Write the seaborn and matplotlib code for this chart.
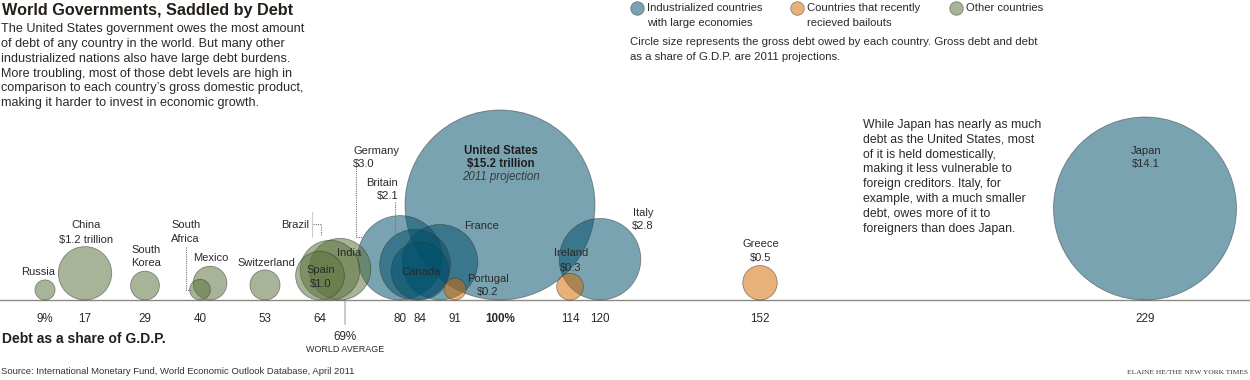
import numpy as np
import pandas as pd
import matplotlib
matplotlib.use("Agg")
import matplotlib.pyplot as plt
import seaborn as sns

# ---------------- data ----------------
countries = ["Russia", "China", "South Korea", "South Africa", "Mexico", "Switzerland",
             "Spain", "Brazil", "India", "Germany", "Britain", "Canada", "France",
             "Portugal", "United States", "Ireland", "Italy", "Greece", "Japan"]
debt_share_gdp = [9, 17, 29, 40, 42, 53, 64, 66, 68, 80, 83, 84, 88, 91, 100, 114, 120, 152, 229]
gross_debt_trillion = [0.17, 1.2, 0.35, 0.18, 0.48, 0.38, 1.0, 1.5, 1.6, 3.0, 2.1, 1.4, 2.4,
                       0.2, 15.2, 0.3, 2.8, 0.5, 14.1]
groups = ["other", "other", "other", "other", "other", "other", "other", "other", "other",
          "industrial", "industrial", "industrial", "industrial", "bailout", "industrial",
          "bailout", "industrial", "bailout", "industrial"]
tick_labels = ["9%", "17", "29", "40", "", "53", "64", "", "", "80", "", "84", "", "91",
               "100%", "114", "120", "152", "229"]
world_average = 69

# ---------------- style ----------------
W, H, DPI = 1250, 380, 100
PX_PER_UNIT = 5.0          # 1 percentage point = 5 px
BASE_PX = 300              # baseline y in pixels (from top)
MAX_R_PX = 95              # radius of the largest circle
palette = {"industrial": "#00506a", "bailout": "#d56b00", "other": "#586f39"}
ALPHA = 0.52
TXT = "#2a2a2a"

sns.set_style("white")
plt.rcParams["font.family"] = ["Liberation Sans", "DejaVu Sans"]

df = pd.DataFrame({"country": countries, "share": debt_share_gdp,
                   "debt": gross_debt_trillion, "group": groups})
max_debt = df["debt"].max()
# circle radius (px) ∝ sqrt(debt); circles rest on the baseline
df["r_px"] = MAX_R_PX * np.sqrt(df["debt"] / max_debt)
df["yc"] = df["r_px"] / PX_PER_UNIT
df = df.sort_values("debt", ascending=False)
max_size = (2 * MAX_R_PX * 72.0 / DPI) ** 2

fig = plt.figure(figsize=(W / DPI, H / DPI), dpi=DPI)
ax = fig.add_axes([0, 0, 1, 1])
ax.set_xlim(0, W / PX_PER_UNIT)
ax.set_ylim(-(H - BASE_PX) / PX_PER_UNIT, BASE_PX / PX_PER_UNIT)

sns.scatterplot(data=df, x="share", y="yc", hue="group", palette=palette,
                size="debt", sizes=(0, max_size), size_norm=(0, max_debt),
                alpha=ALPHA, edgecolor="#333333", linewidth=0.6, legend=False,
                ax=ax, zorder=3, clip_on=False)

for s in ["top", "right", "left"]:
    ax.spines[s].set_visible(False)
ax.spines["bottom"].set_position(("data", 0))
ax.spines["bottom"].set_color("#8c8a84")
ax.spines["bottom"].set_linewidth(1.0)
ax.spines["bottom"].set_zorder(2)
ax.set_yticks([])
ax.set_xticks(debt_share_gdp)
ax.set_xticklabels(tick_labels, fontsize=8.4, color=TXT)
ax.tick_params(axis="x", direction="out", length=5.8, width=1.3, color="#c4c4c4", pad=3.2)
for lab in ax.get_xticklabels():
    if lab.get_text() == "100%":
        lab.set_fontweight("bold")
ax.set_xlabel("")
ax.set_ylabel("")
ax.patch.set_alpha(0)
# world average tick
ax.plot([world_average, world_average], [0, -24 / PX_PER_UNIT], color="#c4c4c4", lw=1.3, zorder=1,
        clip_on=False)

# ---------------- overlay (pixel coords) ----------------
ov = fig.add_axes([0, 0, 1, 1])
ov.set_xlim(0, W)
ov.set_ylim(H, 0)
ov.axis("off")
ov.patch.set_alpha(0)


def lines(x, y0, dy, txts, **kw):
    kw.setdefault("va", "center")
    kw.setdefault("color", TXT)
    for i, t in enumerate(txts):
        ov.text(x, y0 + i * dy, t, **kw)


ov.text(2, 10, "World Governments, Saddled by Debt", fontsize=11.7, fontweight="bold",
        color="#231f1a", va="center", ha="left")
lines(1, 29.3, 14.8, [
    "The United States government owes the most amount",
    "of debt of any country in the world. But many other",
    "industrialized nations also have large debt burdens.",
    "More troubling, most of those debt levels are high in",
    "comparison to each country\u2019s gross domestic product,",
    "making it harder to invest in economic growth."], fontsize=9.1, ha="left")

# legend
leg = [(637, "industrial", ["Industrialized countries", "with large economies"]),
       (797, "bailout", ["Countries that recently", "recieved bailouts"]),
       (956, "other", ["Other countries"])]
for x, g, t in leg:
    ov.scatter([x], [8], s=95, color=palette[g], alpha=ALPHA, edgecolor="#333333", linewidth=0.6)
    lines(x + 10, 8, 15, t, fontsize=8.1, ha="left")
lines(630, 42, 14.5, ["Circle size represents the gross debt owed by each country. Gross debt and debt",
                      "as a share of G.D.P. are 2011 projections."], fontsize=8.2, ha="left")

# Japan note
lines(863, 125, 14.8, ["While Japan has nearly as much", "debt as the United States, most",
                       "of it is held domestically,", "making it less vulnerable to",
                       "foreign creditors. Italy, for", "example, with a much smaller",
                       "debt, owes more of it to", "foreigners than does Japan."],
      fontsize=8.8, ha="left")

# country labels
LF = 8
lines(38, 272, 13, ["Russia"], fontsize=LF, ha="center")
lines(86, 225, 15, ["China", "$1.2 trillion"], fontsize=LF, ha="center")
lines(146, 250, 13.5, ["South", "Korea"], fontsize=LF, ha="center")
lines(171, 225, 13.5, ["South", "Africa"], fontsize=LF, ha="left")
lines(211, 258, 13, ["Mexico"], fontsize=LF, ha="center")
lines(266, 263, 13, ["Switzerland"], fontsize=LF, ha="center")
lines(309, 225, 13, ["Brazil"], fontsize=LF, ha="right")
lines(349, 253, 13, ["India"], fontsize=LF, ha="center")
lines(321, 270, 14, ["Spain", "$1.0"], fontsize=LF, ha="center")
lines(353, 151, 12.5, ["Germany", "$3.0"], fontsize=LF, ha="left")
lines(398, 183, 13.5, ["Britain", "$2.1"], fontsize=LF, ha="right")
lines(421, 272, 13, ["Canada"], fontsize=LF, ha="center")
lines(482, 226, 13, ["France"], fontsize=LF, ha="center")
lines(488, 279, 13.5, ["Portugal", "$0.2"], fontsize=LF, ha="center")
lines(501, 151, 13, ["United States", "$15.2 trillion"], fontsize=8.3, ha="center",
      fontweight="bold", color="#1e1e1e")
lines(501, 177, 13, ["2011 projection"], fontsize=8.3, ha="center", style="italic", color="#3a3a3a")
lines(643, 213, 13, ["Italy", "$2.8"], fontsize=LF, ha="center")
lines(571, 253, 14.5, ["Ireland", "$0.3"], fontsize=LF, ha="center")
lines(761, 244, 14, ["Greece", "$0.5"], fontsize=LF, ha="center")
lines(1146, 151, 13, ["Japan", "$14.1"], fontsize=LF, ha="center")

# leader lines
dot = dict(color="#777777", lw=0.8, ls=(0, (1, 1)))
ov.plot([186, 186, 192], [247, 290, 290], **dot)
ov.plot([313, 321, 321], [224, 224, 236], **dot)
ov.plot([311.5, 311.5], [212, 237], color="#cccccc", lw=0.8)
ov.plot([356, 356, 363], [168, 237, 237], **dot)
ov.plot([395, 395], [202, 237], **dot)

# world average label
lines(345, 337, 13, ["69%"], fontsize=8.4, ha="center")
lines(345, 349.5, 13, ["WORLD AVERAGE"], fontsize=6.5, ha="center")

ov.text(2, 339, "Debt as a share of G.D.P.", fontsize=10, fontweight="bold", color="#231f1a",
        va="center", ha="left")
ov.text(1, 372, "Source: International Monetary Fund, World Economic Outlook Database, April 2011",
        fontsize=6.8, family=["Liberation Sans Narrow", "Liberation Sans"], color="#333333",
        va="center", ha="left")
ov.text(1248, 372, "ELAINE HE/THE NEW YORK TIMES", fontsize=5.4, family=["Liberation Serif"],
        color="#333333", va="center", ha="right")

fig.savefig("out.png", dpi=DPI)
